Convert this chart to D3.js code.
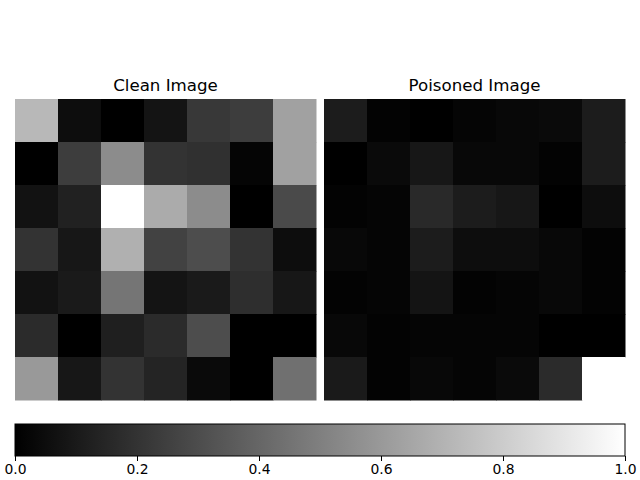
<html>
<script src="https://d3js.org/d3.v7.min.js"></script>
<style>
body { margin: 0; background: #fff; }
text { font-family: "DejaVu Sans", sans-serif; }
</style>
<body>
</body>
</html>

<script type="text/javascript">

// pixel values (rows top to bottom), gray colormap 0..1
var clean = [
	[0.72, 0.05, 0.00, 0.08, 0.22, 0.24, 0.63],
	[0.00, 0.24, 0.55, 0.20, 0.19, 0.02, 0.63],
	[0.07, 0.13, 1.00, 0.67, 0.55, 0.00, 0.29],
	[0.20, 0.09, 0.69, 0.26, 0.30, 0.20, 0.05],
	[0.07, 0.10, 0.46, 0.08, 0.10, 0.18, 0.09],
	[0.17, 0.00, 0.12, 0.17, 0.30, 0.00, 0.00],
	[0.60, 0.09, 0.20, 0.14, 0.04, 0.00, 0.44]
];
var poisoned = [
	[0.11, 0.01, 0.00, 0.02, 0.03, 0.04, 0.11],
	[0.00, 0.04, 0.09, 0.03, 0.03, 0.01, 0.11],
	[0.01, 0.02, 0.16, 0.11, 0.09, 0.00, 0.05],
	[0.03, 0.02, 0.11, 0.05, 0.05, 0.03, 0.01],
	[0.01, 0.02, 0.08, 0.01, 0.02, 0.03, 0.01],
	[0.03, 0.01, 0.02, 0.02, 0.02, 0.00, 0.00],
	[0.10, 0.01, 0.03, 0.02, 0.04, 0.17, 1.00]
];
var titles = ["Clean Image", "Poisoned Image"];
var cbar_ticks = [0.0, 0.2, 0.4, 0.6, 0.8, 1.0];

var svg = d3.select("body")
	.append("svg")
	.attr("width", 640)
	.attr("height", 480);

var color_scale = d3.scaleLinear()
	.domain([0, 1])
	.range(["#000000", "#ffffff"]);

var idx = d3.range(7);
var panels = [
	{ title: titles[0], data: clean, x0: 15 },
	{ title: titles[1], data: poisoned, x0: 324 }
];

panels.forEach(function(p){
	var x_scale = d3.scaleBand().domain(idx).range([p.x0, p.x0 + 301]);
	var y_scale = d3.scaleBand().domain(idx).range([99, 400]);

	var cells = [];
	p.data.forEach(function(row, r){
		row.forEach(function(v, c){ cells.push({ r: r, c: c, v: v }); });
	});

	svg.append("g").selectAll("rect").data(cells)
		.enter().append("rect")
		.attr("x", function(d){ return x_scale(d.c); })
		.attr("y", function(d){ return y_scale(d.r); })
		.attr("width", x_scale.bandwidth() + 0.5)
		.attr("height", y_scale.bandwidth() + 0.5)
		.style("fill", function(d){ return color_scale(d.v); });

	svg.append("text")
		.attr("x", p.x0 + 150.5)
		.attr("y", 91)
		.attr("text-anchor", "middle")
		.style("font-size", "16.67px")
		.text(p.title);
});

// colorbar
var defs = svg.append("defs");
var grad = defs.append("linearGradient").attr("id", "cgrad");
grad.append("stop").attr("offset", "0%").attr("stop-color", color_scale(0));
grad.append("stop").attr("offset", "100%").attr("stop-color", color_scale(1));

var cb_scale = d3.scaleLinear().domain([0, 1]).range([15, 625]);

svg.append("rect")
	.attr("x", 15).attr("y", 424)
	.attr("width", 610).attr("height", 32)
	.style("fill", "url(#cgrad)")
	.style("stroke", "#000")
	.style("stroke-width", 1);

var cb_axis = svg.append("g")
	.attr("transform", "translate(0, 456)")
	.call(d3.axisBottom(cb_scale)
		.tickValues(cbar_ticks)
		.tickSize(5)
		.tickPadding(3)
		.tickFormat(d3.format(".1f")));
cb_axis.select(".domain").remove();
cb_axis.selectAll("text")
	.style("font-family", "DejaVu Sans, sans-serif")
	.style("font-size", "13.9px")
	.attr("fill", "#000");
cb_axis.selectAll("line").attr("stroke", "#000");
</script>
